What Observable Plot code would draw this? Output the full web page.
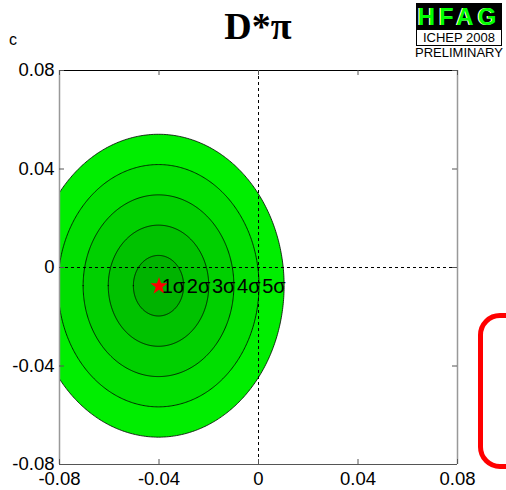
<!DOCTYPE html>
<html>
<head>
<meta charset="utf-8">
<script src="https://cdn.jsdelivr.net/npm/d3@7"></script>
<script src="https://cdn.jsdelivr.net/npm/@observablehq/plot@0.6"></script>
<style>
  html, body { margin: 0; padding: 0; background: #fff; overflow: hidden; }
  #wrap { position: relative; width: 506px; height: 490px; overflow: hidden; font-family: "Liberation Sans", Arial, sans-serif; }
  #chart { position: absolute; left: 0; top: 0; }
  .abs { position: absolute; }
</style>
</head>
<body>
<div id="wrap">
  <div id="chart"></div>
  <div class="abs" style="left:150px; top:6px; width:216px; text-align:center; font-family:'Liberation Serif','Times New Roman',serif; font-weight:bold; font-size:38px; line-height:40px;">D*π</div>
  <div class="abs" style="left:9px; top:31px; font-size:16px;">c</div>
  <div class="abs" style="left:416px; top:3px; width:86px; height:27px; background:#000; color:#00ff00; font-weight:bold; font-size:24px; line-height:28px; text-align:center; letter-spacing:4px; text-shadow:-1px 0 0 #fff;">HFAG</div>
  <div class="abs" style="left:416px; top:30px; width:84px; height:15px; border-left:1px solid #000; border-right:1px solid #000; border-bottom:1px solid #000; font-size:13px; line-height:15px; text-align:center;">ICHEP 2008</div>
  <div class="abs" style="left:410px; top:46px; width:98px; font-size:13px; line-height:14px; text-align:center;">PRELIMINARY</div>
  <div class="abs" style="left:478px; top:313px; width:70px; height:146px; border:5px solid #ff0000; border-radius:22px;"></div>
</div>
<script>
// --- data ---
const xTicks = [-0.08, -0.04, 0, 0.04, 0.08];
const yTicks = [-0.08, -0.04, 0, 0.04, 0.08];
const tickLabels = ["-0.08", "-0.04", "0", "0.04", "0.08"];
const centerX = -0.040;
const centerY = -0.0076;
const sigmaX = 0.0101;
const sigmaY = 0.0123;
const levels = [5, 4, 3, 2, 1];
const levelColors = ["#00ee00", "#00df00", "#00d000", "#00c200", "#00b300"];
const levelLabels = ["1σ", "2σ", "3σ", "4σ", "5σ"];

// ellipse outlines built from the centre and widths above
function ellipse(n) {
  const N = 240, pts = [];
  for (let i = 0; i <= N; i++) {
    const t = Math.PI - Math.PI * i / N;
    const h = n * sigmaY * Math.sin(t);
    pts.push({x: centerX + n * sigmaX * Math.cos(t), y1: centerY - h, y2: centerY + h});
  }
  return pts;
}

const W = 506, H = 490;
const mL = 59, mR = 49, mT = 70, mB = 26;
const innerW = W - mL - mR, innerH = H - mT - mB;
const tk = 5;

const marks = [];
levels.forEach((n, i) => {
  marks.push(Plot.area(ellipse(n), {x1: "x", y1: "y1", y2: "y2", fill: levelColors[i], stroke: "#000", strokeWidth: 0.8, clip: true}));
});
marks.push(
  Plot.ruleX([0], {stroke: "#000", strokeWidth: 1, strokeDasharray: "3,3"}),
  Plot.ruleY([0], {stroke: "#000", strokeWidth: 1, strokeDasharray: "3,3"}),
  Plot.dot([{x: centerX, y: centerY}], {x: "x", y: "y", symbol: "star", r: 5.5, fill: "#ff0000", stroke: "none"}),
  Plot.text(levelLabels, {x: (d, i) => centerX + (i + 1) * sigmaX, y: () => centerY, text: d => d, textAnchor: "end", lineAnchor: "middle", fontSize: 20, fill: "#000", dx: 1}),
  // frame
  Plot.ruleY([0.08], {stroke: "#000", strokeWidth: 1.2}),
  Plot.ruleY([-0.08], {stroke: "#555", strokeWidth: 1.2}),
  Plot.ruleX([-0.08], {stroke: "#999", strokeWidth: 1.5}),
  Plot.ruleX([0.08], {stroke: "#999", strokeWidth: 1.5}),
  // inward ticks
  Plot.ruleX(xTicks, {x: d => d, insetTop: innerH - tk, stroke: "#555"}),
  Plot.ruleX(xTicks, {x: d => d, insetBottom: innerH - tk, stroke: "#555"}),
  Plot.ruleY(yTicks, {y: d => d, insetRight: innerW - tk, stroke: "#555"}),
  Plot.ruleY(yTicks, {y: d => d, insetLeft: innerW - tk, stroke: "#555"}),
  Plot.axisX(xTicks, {anchor: "bottom", label: null, tickSize: 0, tickPadding: 7, tickFormat: (d, i) => tickLabels[i], fontSize: 18.5, fill: "#000"}),
  Plot.axisY(yTicks, {anchor: "left", label: null, tickSize: 0, tickPadding: 5, tickFormat: (d, i) => tickLabels[i], fontSize: 18.5, fill: "#000"})
);

const chart = Plot.plot({
  width: W, height: H,
  marginLeft: mL, marginRight: mR, marginTop: mT, marginBottom: mB,
  x: {domain: [-0.08, 0.08], label: null},
  y: {domain: [-0.08, 0.08], label: null},
  style: {fontFamily: "'Liberation Sans', Arial, sans-serif", background: "transparent", overflow: "visible"},
  marks
});
document.getElementById("chart").appendChild(chart);
</script>
</body>
</html>
